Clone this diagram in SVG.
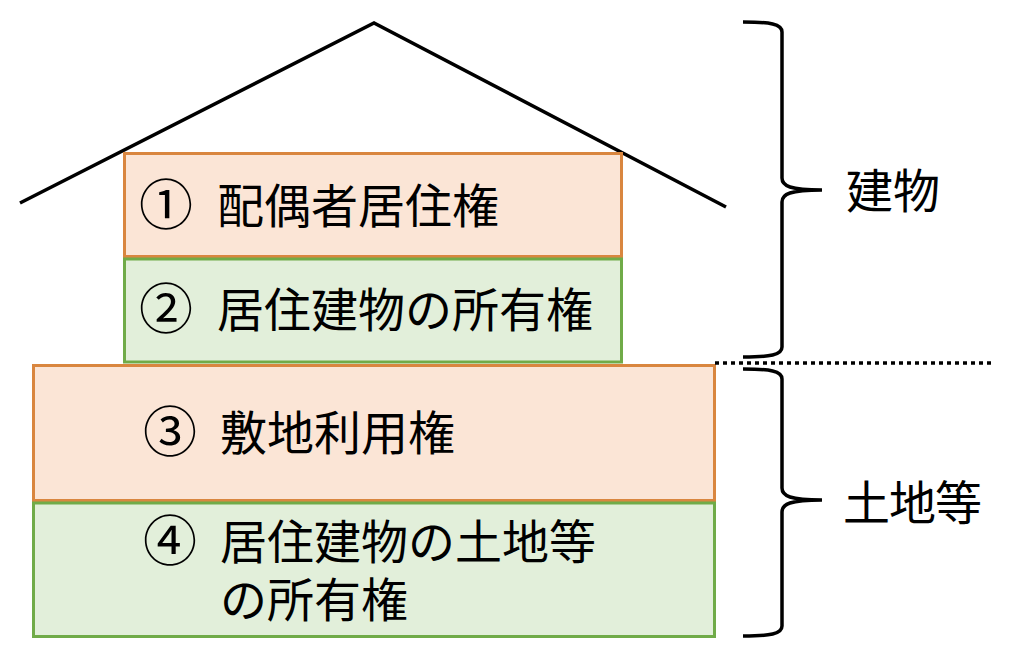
<svg xmlns="http://www.w3.org/2000/svg" width="1009" height="652" viewBox="0 0 1009 652">
<style>
.or{fill:#FBE5D6;stroke:#D9863F;stroke-width:3}
.gr{fill:#E2EFDA;stroke:#70AB48;stroke-width:3}
.t{font-family:"Noto Sans CJK JP","Noto Sans",sans-serif;font-size:47px;fill:#000}
.n{font-size:54px}
.ln{fill:none;stroke:#000;stroke-width:3.5;stroke-linecap:butt;stroke-linejoin:miter}
</style>
<rect width="1009" height="652" fill="#fff"/>
<g id="roof"><polyline class="ln" points="20,203 374,23 726,207"/></g>
<g id="node1"><rect class="or" x="124.5" y="153.5" width="497" height="103"/>
<text class="t n" x="139" y="225">①</text><text class="t" x="217" y="223">配偶者居住権</text></g>
<g id="node2"><rect class="gr" x="124.5" y="259" width="497" height="103"/>
<text class="t n" x="139" y="329">②</text><text class="t" x="217" y="327">居住建物の所有権</text></g>
<g id="node3"><rect class="or" x="33.5" y="365.5" width="681" height="135"/>
<text class="t n" x="143" y="452">③</text><text class="t" x="220" y="450">敷地利用権</text></g>
<g id="node4"><rect class="gr" x="33.5" y="503" width="681" height="133.5"/>
<text class="t n" x="143" y="561">④</text><text class="t"><tspan x="220" y="559">居住建物の土地等</tspan><tspan x="220" y="617">の所有権</tspan></text></g>
<g id="connectors">
<line x1="715" y1="363" x2="993" y2="363" stroke="#000" stroke-width="3.5" stroke-dasharray="4 4"/>
<path class="ln" d="M743,22 C770,22 782,24 782,32 L782,178 C782,186 790,190 822,190 C790,190 782,194 782,202 L782,347 C782,355 770,357 743,357"/>
<path class="ln" d="M743,369 C770,369 782,371 782,379 L782,488 C782,496 790,500 822,500 C790,500 782,504 782,512 L782,626 C782,634 770,636 743,636"/>
</g>
<g id="label_building"><text class="t" x="846" y="208">建物</text></g>
<g id="label_land"><text class="t" x="843" y="520" letter-spacing="-1">土地等</text></g>
</svg>
